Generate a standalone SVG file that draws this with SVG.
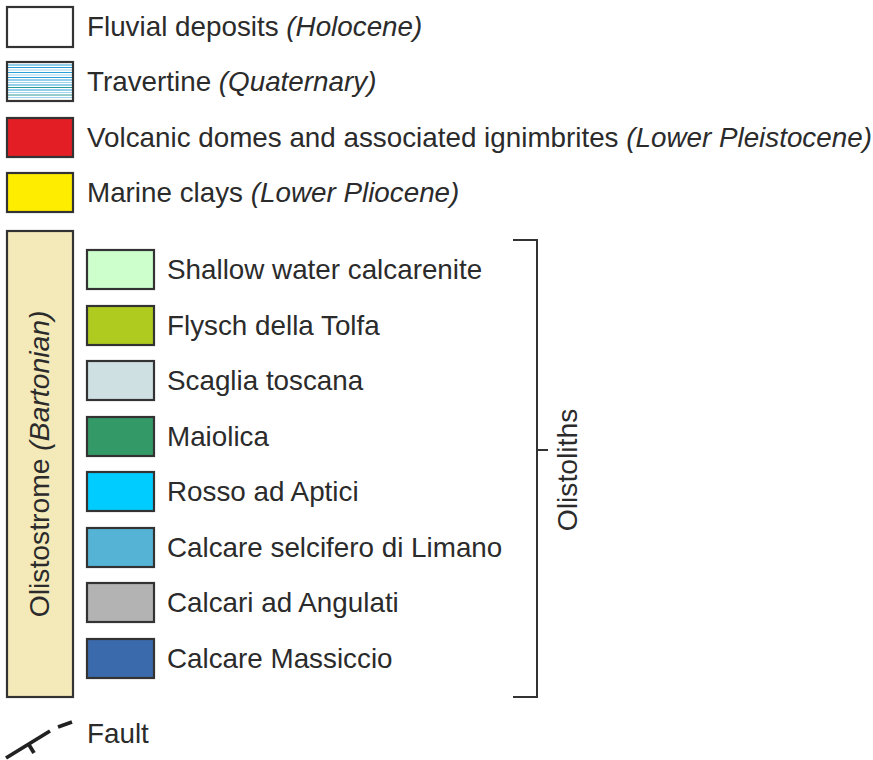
<svg xmlns="http://www.w3.org/2000/svg" width="873" height="760" viewBox="0 0 873 760">
<style>
text{font-family:"Liberation Sans",Arial,sans-serif;font-size:27.8px;fill:#2b2b2b}
.rot{font-size:28.3px}
.it{font-style:italic}
.box{stroke:#333;stroke-width:2.2}
.br{fill:none;stroke:#333;stroke-width:2}
.ft{fill:none;stroke:#222;stroke-width:3.8}
</style>
<rect width="873" height="760" fill="#fff"/>
<g id="fluvial"><rect class="box" x="7" y="7" width="66" height="40" fill="#fff"/><text x="87" y="36">Fluvial deposits <tspan class="it">(Holocene)</tspan></text></g>
<g id="travertine"><rect x="7" y="62" width="66" height="39" fill="#fff"/>
<g stroke-width="1.1">
<line x1="8" x2="72" y1="65" y2="65" stroke="#2a9fd8"/>
<line x1="8" x2="72" y1="67.5" y2="67.5" stroke="#2a9fd8"/>
<line x1="8" x2="72" y1="70" y2="70" stroke="#9fd4ee"/>
<line x1="8" x2="72" y1="72.5" y2="72.5" stroke="#2a9fd8"/>
<line x1="8" x2="72" y1="75" y2="75" stroke="#9fd4ee"/>
<line x1="8" x2="72" y1="77.5" y2="77.5" stroke="#2a9fd8"/>
<line x1="8" x2="72" y1="80" y2="80" stroke="#2a9fd8"/>
<line x1="8" x2="72" y1="82.5" y2="82.5" stroke="#9fd4ee"/>
<line x1="8" x2="72" y1="85" y2="85" stroke="#2a9fd8"/>
<line x1="8" x2="72" y1="87.5" y2="87.5" stroke="#2a9b99"/>
<line x1="8" x2="72" y1="90" y2="90" stroke="#2a9fd8"/>
<line x1="8" x2="72" y1="92.5" y2="92.5" stroke="#9fd4ee"/>
<line x1="8" x2="72" y1="95" y2="95" stroke="#2a9b99"/>
<line x1="8" x2="72" y1="97.5" y2="97.5" stroke="#9fd4ee"/>
</g>
<rect class="box" x="7" y="62" width="66" height="39" fill="none"/><text x="87" y="91">Travertine <tspan class="it">(Quaternary)</tspan></text></g>
<g id="volcanic"><rect class="box" x="7" y="118" width="66" height="39" fill="#e31e24"/><text x="87" y="147">Volcanic domes and associated ignimbrites <tspan class="it">(Lower Pleistocene)</tspan></text></g>
<g id="marine"><rect class="box" x="7" y="173" width="66" height="39" fill="#ffed00"/><text x="87" y="202">Marine clays <tspan class="it">(Lower Pliocene)</tspan></text></g>
<g id="olistostrome"><rect class="box" x="7" y="231" width="66" height="466" fill="#f3e9b9"/><text class="rot" transform="translate(49,464) rotate(-90)" text-anchor="middle">Olistostrome <tspan class="it">(Bartonian)</tspan></text></g>
<g id="shallow"><rect class="box" x="87" y="250" width="67" height="39" fill="#ccffcc"/><text x="167" y="279">Shallow water calcarenite</text></g>
<g id="flysch"><rect class="box" x="87" y="306" width="67" height="39" fill="#b0cb1f"/><text x="167" y="335">Flysch della Tolfa</text></g>
<g id="scaglia"><rect class="box" x="87" y="361" width="67" height="39" fill="#cfe0e3"/><text x="167" y="390">Scaglia toscana</text></g>
<g id="maiolica"><rect class="box" x="87" y="417" width="67" height="39" fill="#339966"/><text x="167" y="446">Maiolica</text></g>
<g id="rosso"><rect class="box" x="87" y="472" width="67" height="39" fill="#00ccff"/><text x="167" y="501">Rosso ad Aptici</text></g>
<g id="selcifero"><rect class="box" x="87" y="528" width="67" height="39" fill="#55b4d5"/><text x="167" y="557">Calcare selcifero di Limano</text></g>
<g id="angulati"><rect class="box" x="87" y="583" width="67" height="39" fill="#b3b3b3"/><text x="167" y="612">Calcari ad Angulati</text></g>
<g id="massiccio"><rect class="box" x="87" y="639" width="67" height="39" fill="#3a6aab"/><text x="167" y="668">Calcare Massiccio</text></g>
<g id="connectors"><path class="br" d="M513 240H537V697H513M537 450H548"/></g>
<g id="olistoliths"><text class="rot" transform="translate(577,470) rotate(-90)" text-anchor="middle">Olistoliths</text></g>
<g id="fault"><path class="ft" d="M6 758L50 731M58 727L72 722M28.5 744L34 753"/><text x="87" y="743">Fault</text></g>
</svg>
